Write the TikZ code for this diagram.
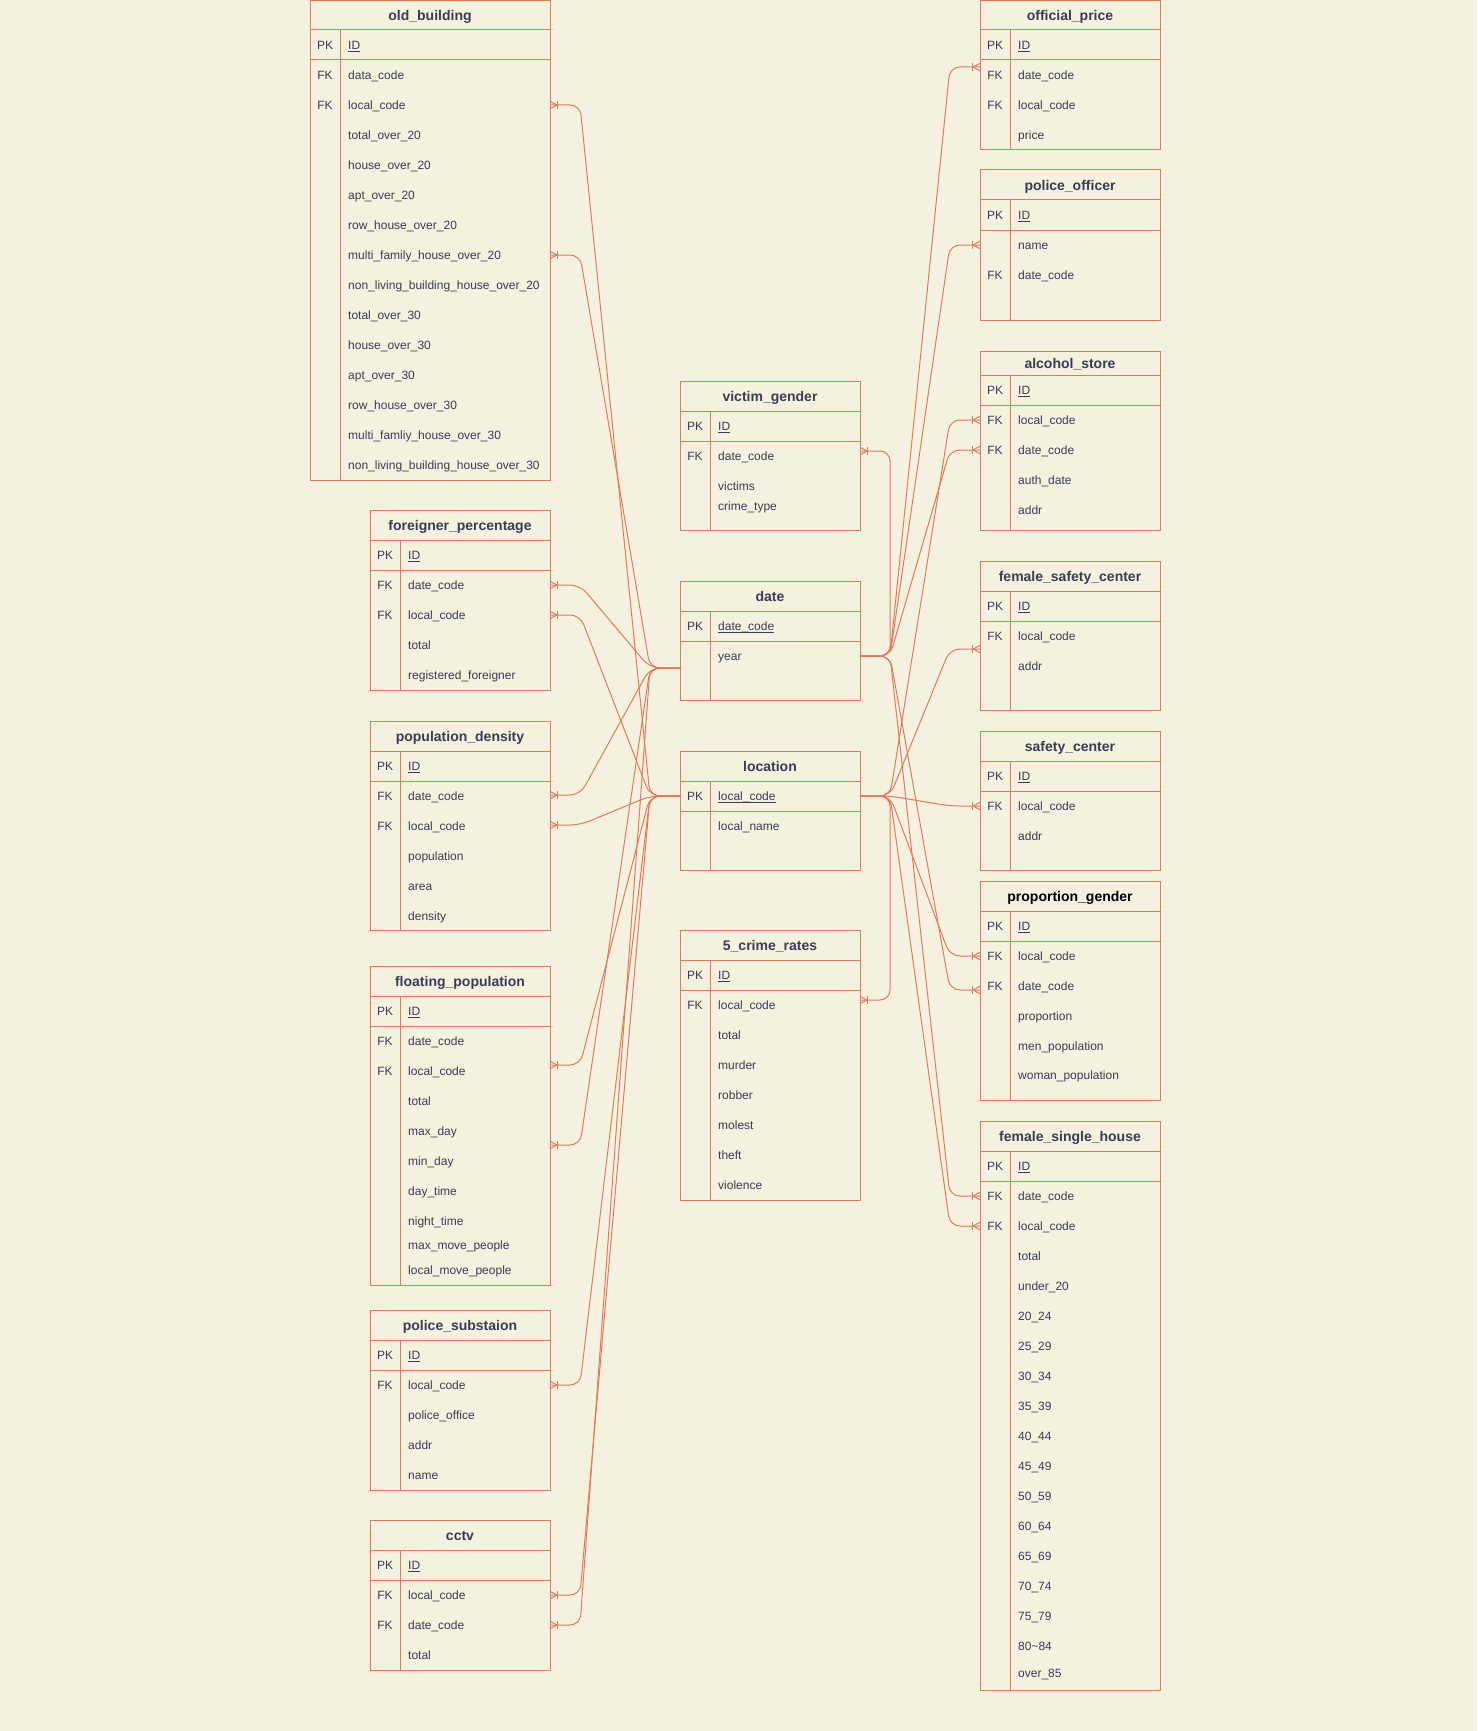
\documentclass[tikz,border=0pt]{standalone}
\usepackage{fontspec}
\setmainfont{Liberation Sans}
\definecolor{erc}{HTML}{E07A5F}
\definecolor{txc}{HTML}{393C56}
\definecolor{bgc}{HTML}{F4F1DE}
\tikzset{
  erline/.style={draw=erc, line width=1pt},
  tblframe/.style={draw=erc, line width=1pt, rectangle, inner sep=0pt, outer sep=0pt, anchor=north west},
  ttl/.style={font=\fontsize{14}{16}\selectfont\bfseries, text=txc, inner sep=0pt, text height=13.4pt, text depth=2.2pt},
  keyt/.style={font=\fontsize{12}{14}\selectfont, text=txc, inner sep=0pt, text height=11.5pt, text depth=2pt},
  fldt/.style={font=\fontsize{12}{14}\selectfont, text=txc, inner sep=0pt, anchor=west, text height=11.5pt, text depth=2pt},
  conn/.style={erline, rounded corners=10pt},
}
\newcommand\pkul[1]{\underline{\smash{#1}}}
\newcommand\ertbl[7]{%
  \node[tblframe, minimum width=#4pt, minimum height=#6pt] (#1) at (#2,#3) {};
  \draw[erline] (#2,#3+#5) -- (#2+#4,#3+#5);
  \draw[erline] (#2,#3+#5+30) -- (#2+#4,#3+#5+30);
  \draw[erline] (#2+30,#3+#5) -- (#2+30,#3+#6);
  \node[ttl] (#1t) at (#2+#4/2,#3+#5/2) {#7};
}
\newcommand\errow[5]{%
  \node[keyt] (#1k) at (#2+15,#3) {#4};
  \node[fldt] (#1) at (#2+38,#3) {#5};
}
\newcommand\crowft[2]{%
  \draw[erline] ([yshift=3.7pt]#1) -- ([xshift=#2*7pt]#1) -- ([yshift=-3.7pt]#1);
  \draw[erline] ([xshift=#2*7.5pt,yshift=4.2pt]#1) -- ([xshift=#2*7.5pt,yshift=-4.2pt]#1);
}
\begin{document}
\begin{tikzpicture}[x=1pt,y=-1pt]
\fill[bgc] (0,0) rectangle (1477,1731);
\useasboundingbox (0,0) rectangle (1477,1731);

% ---------- left column ----------
\ertbl{ob}{310}{0.5}{240}{29.5}{479.5}{old\_building}
\errow{ob0}{310}{45}{PK}{\pkul{ID}}
\errow{ob1}{310}{75}{FK}{data\_code}
\errow{ob2}{310}{105}{FK}{local\_code}
\errow{ob3}{310}{135}{}{total\_over\_20}
\errow{ob4}{310}{165}{}{house\_over\_20}
\errow{ob5}{310}{195}{}{apt\_over\_20}
\errow{ob6}{310}{225}{}{row\_house\_over\_20}
\errow{ob7}{310}{255}{}{multi\_family\_house\_over\_20}
\errow{ob8}{310}{285}{}{non\_living\_building\_house\_over\_20}
\errow{ob9}{310}{315}{}{total\_over\_30}
\errow{ob10}{310}{345}{}{house\_over\_30}
\errow{ob11}{310}{375}{}{apt\_over\_30}
\errow{ob12}{310}{405}{}{row\_house\_over\_30}
\errow{ob13}{310}{435}{}{multi\_famliy\_house\_over\_30}
\errow{ob14}{310}{465}{}{non\_living\_building\_house\_over\_30}

\ertbl{fp}{370}{510}{180}{30}{180}{foreigner\_percentage}
\errow{fp0}{370}{555}{PK}{\pkul{ID}}
\errow{fp1}{370}{585}{FK}{date\_code}
\errow{fp2}{370}{615}{FK}{local\_code}
\errow{fp3}{370}{645}{}{total}
\errow{fp4}{370}{675}{}{registered\_foreigner}

\ertbl{pd}{370}{721}{180}{30}{209}{population\_density}
\errow{pd0}{370}{766}{PK}{\pkul{ID}}
\errow{pd1}{370}{796}{FK}{date\_code}
\errow{pd2}{370}{826}{FK}{local\_code}
\errow{pd3}{370}{856}{}{population}
\errow{pd4}{370}{886}{}{area}
\errow{pd5}{370}{916}{}{density}

\ertbl{fl}{370}{966}{180}{30}{319}{floating\_population}
\errow{fl0}{370}{1011}{PK}{\pkul{ID}}
\errow{fl1}{370}{1041}{FK}{date\_code}
\errow{fl2}{370}{1071}{FK}{local\_code}
\errow{fl3}{370}{1101}{}{total}
\errow{fl4}{370}{1131}{}{max\_day}
\errow{fl5}{370}{1161}{}{min\_day}
\errow{fl6}{370}{1191}{}{day\_time}
\errow{fl7}{370}{1221}{}{night\_time}
\errow{fl8}{370}{1245}{}{max\_move\_people}
\errow{fl9}{370}{1270}{}{local\_move\_people}

\ertbl{ps}{370}{1310}{180}{30}{180}{police\_substaion}
\errow{ps0}{370}{1355}{PK}{\pkul{ID}}
\errow{ps1}{370}{1385}{FK}{local\_code}
\errow{ps2}{370}{1415}{}{police\_office}
\errow{ps3}{370}{1445}{}{addr}
\errow{ps4}{370}{1475}{}{name}

\ertbl{cc}{370}{1520}{180}{30}{150}{cctv}
\errow{cc0}{370}{1565}{PK}{\pkul{ID}}
\errow{cc1}{370}{1595}{FK}{local\_code}
\errow{cc2}{370}{1625}{FK}{date\_code}
\errow{cc3}{370}{1655}{}{total}

% ---------- middle column ----------
\ertbl{vg}{680}{381}{180}{30}{149}{victim\_gender}
\errow{vg0}{680}{426}{PK}{\pkul{ID}}
\errow{vg1}{680}{456}{FK}{date\_code}
\errow{vg2}{680}{486}{}{victims}
\errow{vg3}{680}{506}{}{crime\_type}

\ertbl{dt}{680}{581}{180}{30}{119}{date}
\errow{dt0}{680}{626}{PK}{\pkul{date\_code}}
\errow{dt1}{680}{656}{}{year}

\ertbl{lc}{680}{751}{180}{30}{119}{location}
\errow{lc0}{680}{796}{PK}{\pkul{local\_code}}
\errow{lc1}{680}{826}{}{local\_name}

\ertbl{cr}{680}{930}{180}{30}{270}{5\_crime\_rates}
\errow{cr0}{680}{975}{PK}{\pkul{ID}}
\errow{cr1}{680}{1005}{FK}{local\_code}
\errow{cr2}{680}{1035}{}{total}
\errow{cr3}{680}{1065}{}{murder}
\errow{cr4}{680}{1095}{}{robber}
\errow{cr5}{680}{1125}{}{molest}
\errow{cr6}{680}{1155}{}{theft}
\errow{cr7}{680}{1185}{}{violence}

% ---------- right column ----------
\ertbl{op}{980}{0.5}{180}{29.5}{149.5}{official\_price}
\errow{op0}{980}{45}{PK}{\pkul{ID}}
\errow{op1}{980}{75}{FK}{date\_code}
\errow{op2}{980}{105}{FK}{local\_code}
\errow{op3}{980}{135}{}{price}

\ertbl{po}{980}{170}{180}{30}{150}{police\_officer}
\errow{po0}{980}{215}{PK}{\pkul{ID}}
\errow{po1}{980}{245}{}{name}
\errow{po2}{980}{275}{FK}{date\_code}

\ertbl{as}{980}{351}{180}{24}{179}{alcohol\_store}
\errow{as0}{980}{390}{PK}{\pkul{ID}}
\errow{as1}{980}{420}{FK}{local\_code}
\errow{as2}{980}{450}{FK}{date\_code}
\errow{as3}{980}{480}{}{auth\_date}
\errow{as4}{980}{510}{}{addr}

\ertbl{fs}{980}{561}{180}{30}{149}{female\_safety\_center}
\errow{fs0}{980}{606}{PK}{\pkul{ID}}
\errow{fs1}{980}{636}{FK}{local\_code}
\errow{fs2}{980}{666}{}{addr}

\ertbl{sc}{980}{731}{180}{30}{139}{safety\_center}
\errow{sc0}{980}{776}{PK}{\pkul{ID}}
\errow{sc1}{980}{806}{FK}{local\_code}
\errow{sc2}{980}{836}{}{addr}

\ertbl{pg}{980}{881}{180}{30}{219}{{\color{black}proportion\_gender}}
\errow{pg0}{980}{926}{PK}{\pkul{ID}}
\errow{pg1}{980}{956}{FK}{local\_code}
\errow{pg2}{980}{986}{FK}{date\_code}
\errow{pg3}{980}{1016}{}{proportion}
\errow{pg4}{980}{1046}{}{men\_population}
\errow{pg5}{980}{1075}{}{woman\_population}

\ertbl{fh}{980}{1121}{180}{30}{569}{female\_single\_house}
\errow{fh0}{980}{1166}{PK}{\pkul{ID}}
\errow{fh1}{980}{1196}{FK}{date\_code}
\errow{fh2}{980}{1226}{FK}{local\_code}
\errow{fh3}{980}{1256}{}{total}
\errow{fh4}{980}{1286}{}{under\_20}
\errow{fh5}{980}{1316}{}{20\_24}
\errow{fh6}{980}{1346}{}{25\_29}
\errow{fh7}{980}{1376}{}{30\_34}
\errow{fh8}{980}{1406}{}{35\_39}
\errow{fh9}{980}{1436}{}{40\_44}
\errow{fh10}{980}{1466}{}{45\_49}
\errow{fh11}{980}{1496}{}{50\_59}
\errow{fh12}{980}{1526}{}{60\_64}
\errow{fh13}{980}{1556}{}{65\_69}
\errow{fh14}{980}{1586}{}{70\_74}
\errow{fh15}{980}{1616}{}{75\_79}
\errow{fh16}{980}{1646}{}{80\textasciitilde 84}
\errow{fh17}{980}{1673}{}{over\_85}

% ---------- connection points ----------
\coordinate (dL) at (680,668);
\coordinate (dR) at (860,656);
\coordinate (lL) at (680,796);
\coordinate (lR) at (860,796);
\coordinate (ob-a) at (550,105);
\coordinate (ob-b) at (550,255);
\coordinate (fp-a) at (550,585);
\coordinate (fp-b) at (550,615);
\coordinate (pd-a) at (550,795);
\coordinate (pd-b) at (550,825);
\coordinate (fl-a) at (550,1065);
\coordinate (fl-b) at (550,1145);
\coordinate (ps-a) at (550,1385);
\coordinate (cc-a) at (550,1595);
\coordinate (cc-b) at (550,1625);
\coordinate (op-a) at (980,67);
\coordinate (po-a) at (980,245);
\coordinate (vg-a) at (860,451);
\coordinate (as-a) at (980,420);
\coordinate (as-b) at (980,450);
\coordinate (fs-a) at (980,649);
\coordinate (sc-a) at (980,806);
\coordinate (pg-a) at (980,956);
\coordinate (pg-b) at (980,990);
\coordinate (fh-a) at (980,1196);
\coordinate (fh-b) at (980,1226);
\coordinate (cr-a) at (860,1000);

% ---------- connectors: left side ----------
\draw[conn] (dL) -- ++(-30,0) -- ([xshift=30pt]ob-b) -- (ob-b);
\draw[conn] (lL) -- ++(-30,0) -- ([xshift=30pt]ob-a) -- (ob-a);
\draw[conn] (dL) -- ++(-30,0) -- ([xshift=30pt]fp-a) -- (fp-a);
\draw[conn] (lL) -- ++(-30,0) -- ([xshift=30pt]fp-b) -- (fp-b);
\draw[conn] (dL) -- ++(-30,0) -- ([xshift=30pt]pd-a) -- (pd-a);
\draw[conn] (lL) -- ++(-30,0) -- ([xshift=30pt]pd-b) -- (pd-b);
\draw[conn] (lL) -- ++(-30,0) -- ([xshift=30pt]fl-a) -- (fl-a);
\draw[conn] (dL) -- ++(-30,0) -- ([xshift=30pt]fl-b) -- (fl-b);
\draw[conn] (lL) -- ++(-30,0) -- ([xshift=30pt]ps-a) -- (ps-a);
\draw[conn] (lL) -- ++(-30,0) -- ([xshift=30pt]cc-a) -- (cc-a);
\draw[conn] (dL) -- ++(-30,0) -- ([xshift=30pt]cc-b) -- (cc-b);

% ---------- connectors: right side ----------
\draw[conn] (dR) -- ++(30,0) -- ([xshift=-30pt]op-a) -- (op-a);
\draw[conn] (dR) -- ++(30,0) -- ([xshift=-30pt]po-a) -- (po-a);
\draw[conn] (dR) -- ++(30,0) -- ([xshift=30pt]vg-a) -- (vg-a);
\draw[conn] (lR) -- ++(30,0) -- ([xshift=-30pt]as-a) -- (as-a);
\draw[conn] (dR) -- ++(30,0) -- ([xshift=-30pt]as-b) -- (as-b);
\draw[conn] (lR) -- ++(30,0) -- ([xshift=-30pt]fs-a) -- (fs-a);
\draw[conn] (lR) -- ++(30,0) -- ([xshift=-30pt]sc-a) -- (sc-a);
\draw[conn] (lR) -- ++(30,0) -- ([xshift=-30pt]pg-a) -- (pg-a);
\draw[conn] (dR) -- ++(30,0) -- ([xshift=-30pt]pg-b) -- (pg-b);
\draw[conn] (dR) -- ++(30,0) -- ([xshift=-30pt]fh-a) -- (fh-a);
\draw[conn] (lR) -- ++(30,0) -- ([xshift=-30pt]fh-b) -- (fh-b);
\draw[conn] (lR) -- ++(30,0) -- ([xshift=30pt]cr-a) -- (cr-a);

% ---------- crow's feet ----------
\crowft{ob-a}{1}
\crowft{ob-b}{1}
\crowft{fp-a}{1}
\crowft{fp-b}{1}
\crowft{pd-a}{1}
\crowft{pd-b}{1}
\crowft{fl-a}{1}
\crowft{fl-b}{1}
\crowft{ps-a}{1}
\crowft{cc-a}{1}
\crowft{cc-b}{1}
\crowft{vg-a}{1}
\crowft{cr-a}{1}
\crowft{op-a}{-1}
\crowft{po-a}{-1}
\crowft{as-a}{-1}
\crowft{as-b}{-1}
\crowft{fs-a}{-1}
\crowft{sc-a}{-1}
\crowft{pg-a}{-1}
\crowft{pg-b}{-1}
\crowft{fh-a}{-1}
\crowft{fh-b}{-1}
\end{tikzpicture}
\end{document}
